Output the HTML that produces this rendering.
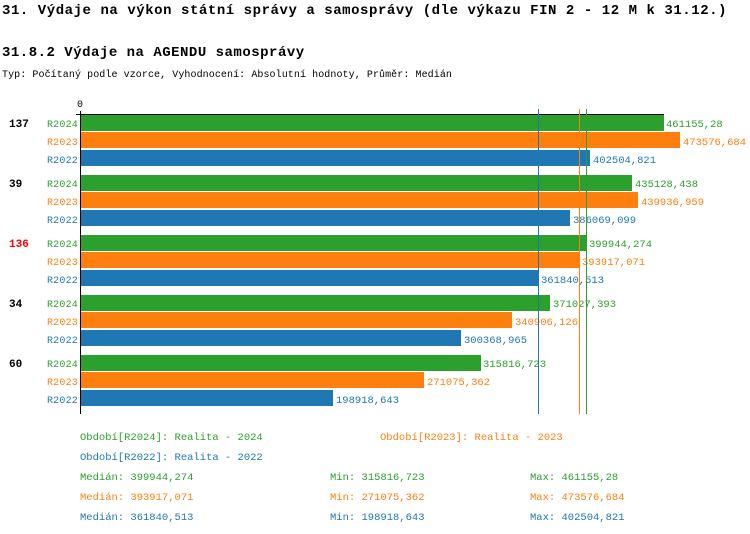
<!DOCTYPE html>
<html><head><meta charset="utf-8"><style>
body{margin:0;background:#fff}
svg{display:block}
text{font-family:"Liberation Mono",monospace}
</style></head><body>
<svg width="750" height="534" xmlns="http://www.w3.org/2000/svg">
<text x="2" y="14" font-size="14" font-weight="bold" letter-spacing="0.55">31. Výdaje na výkon státní správy a samosprávy (dle výkazu FIN 2 - 12 M k 31.12.)</text>
<text x="2" y="56" font-size="14" font-weight="bold" letter-spacing="0.5">31.8.2 Výdaje na AGENDU samosprávy</text>
<text x="2" y="77" font-size="10" letter-spacing="0.08">Typ: Počítaný podle vzorce, Vyhodnocení: Absolutní hodnoty, Průměr: Medián</text>
<text x="80" y="107" font-size="10" text-anchor="middle">0</text>
<g font-size="10.5">
<text x="9" y="127" font-weight="bold" font-size="11">137</text>
<rect x="81" y="115" width="583" height="16" fill="#2ca02c"/><text x="666" y="127" fill="#2ca02c">461155,28</text>
<rect x="81" y="132" width="599" height="16" fill="#ff7f0e"/><text x="683" y="145" fill="#ff7f0e">473576,684</text>
<rect x="81" y="150" width="509" height="16" fill="#1f77b4"/><text x="593" y="163" fill="#1f77b4">402504,821</text>
<text x="9" y="187" font-weight="bold" font-size="11">39</text>
<rect x="81" y="175" width="551" height="16" fill="#2ca02c"/><text x="635" y="187" fill="#2ca02c">435128,438</text>
<rect x="81" y="192" width="557" height="16" fill="#ff7f0e"/><text x="641" y="205" fill="#ff7f0e">439936,959</text>
<rect x="81" y="210" width="489" height="16" fill="#1f77b4"/><text x="573" y="223" fill="#1f77b4">386069,099</text>
<text x="9" y="247" font-weight="bold" fill="#ff0000" font-size="11">136</text>
<rect x="81" y="235" width="506" height="16" fill="#2ca02c"/><text x="589" y="247" fill="#2ca02c">399944,274</text>
<rect x="81" y="252" width="498" height="16" fill="#ff7f0e"/><text x="582" y="265" fill="#ff7f0e">393917,071</text>
<rect x="81" y="270" width="457" height="16" fill="#1f77b4"/><text x="541" y="283" fill="#1f77b4">361840,513</text>
<text x="9" y="307" font-weight="bold" font-size="11">34</text>
<rect x="81" y="295" width="469" height="16" fill="#2ca02c"/><text x="553" y="307" fill="#2ca02c">371027,393</text>
<rect x="81" y="312" width="431" height="16" fill="#ff7f0e"/><text x="515" y="325" fill="#ff7f0e">340906,126</text>
<rect x="81" y="330" width="380" height="16" fill="#1f77b4"/><text x="464" y="343" fill="#1f77b4">300368,965</text>
<text x="9" y="367" font-weight="bold" font-size="11">60</text>
<rect x="81" y="355" width="400" height="16" fill="#2ca02c"/><text x="483" y="367" fill="#2ca02c">315816,723</text>
<rect x="81" y="372" width="343" height="16" fill="#ff7f0e"/><text x="427" y="385" fill="#ff7f0e">271075,362</text>
<rect x="81" y="390" width="252" height="16" fill="#1f77b4"/><text x="336" y="403" fill="#1f77b4">198918,643</text>
</g>
<g font-size="10" text-anchor="end" letter-spacing="0.2">
<text x="78" y="127" fill="#2ca02c">R2024</text><text x="78" y="145" fill="#ff7f0e">R2023</text><text x="78" y="163" fill="#1f77b4">R2022</text>
<text x="78" y="187" fill="#2ca02c">R2024</text><text x="78" y="205" fill="#ff7f0e">R2023</text><text x="78" y="223" fill="#1f77b4">R2022</text>
<text x="78" y="247" fill="#2ca02c">R2024</text><text x="78" y="265" fill="#ff7f0e">R2023</text><text x="78" y="283" fill="#1f77b4">R2022</text>
<text x="78" y="307" fill="#2ca02c">R2024</text><text x="78" y="325" fill="#ff7f0e">R2023</text><text x="78" y="343" fill="#1f77b4">R2022</text>
<text x="78" y="367" fill="#2ca02c">R2024</text><text x="78" y="385" fill="#ff7f0e">R2023</text><text x="78" y="403" fill="#1f77b4">R2022</text>
</g>
<line x1="76" y1="114.5" x2="664" y2="114.5" stroke="#000" stroke-width="1"/>
<line x1="80.5" y1="111" x2="80.5" y2="414" stroke="#000" stroke-width="1"/>
<line x1="538.5" y1="109" x2="538.5" y2="414" stroke="#1f77b4"/>
<line x1="579.5" y1="109" x2="579.5" y2="414" stroke="#ff7f0e"/>
<line x1="586.5" y1="109" x2="586.5" y2="414" stroke="#2ca02c"/>
<g font-size="10.5">
<text x="80" y="440" fill="#2ca02c">Období[R2024]: Realita - 2024</text>
<text x="380" y="440" fill="#ff7f0e">Období[R2023]: Realita - 2023</text>
<text x="80" y="460" fill="#1f77b4">Období[R2022]: Realita - 2022</text>
<text x="80" y="480" fill="#2ca02c">Medián: 399944,274</text>
<text x="330" y="480" fill="#2ca02c">Min: 315816,723</text>
<text x="530" y="480" fill="#2ca02c">Max: 461155,28</text>
<text x="80" y="500" fill="#ff7f0e">Medián: 393917,071</text>
<text x="330" y="500" fill="#ff7f0e">Min: 271075,362</text>
<text x="530" y="500" fill="#ff7f0e">Max: 473576,684</text>
<text x="80" y="520" fill="#1f77b4">Medián: 361840,513</text>
<text x="330" y="520" fill="#1f77b4">Min: 198918,643</text>
<text x="530" y="520" fill="#1f77b4">Max: 402504,821</text>
</g>
</svg>
</body></html>
